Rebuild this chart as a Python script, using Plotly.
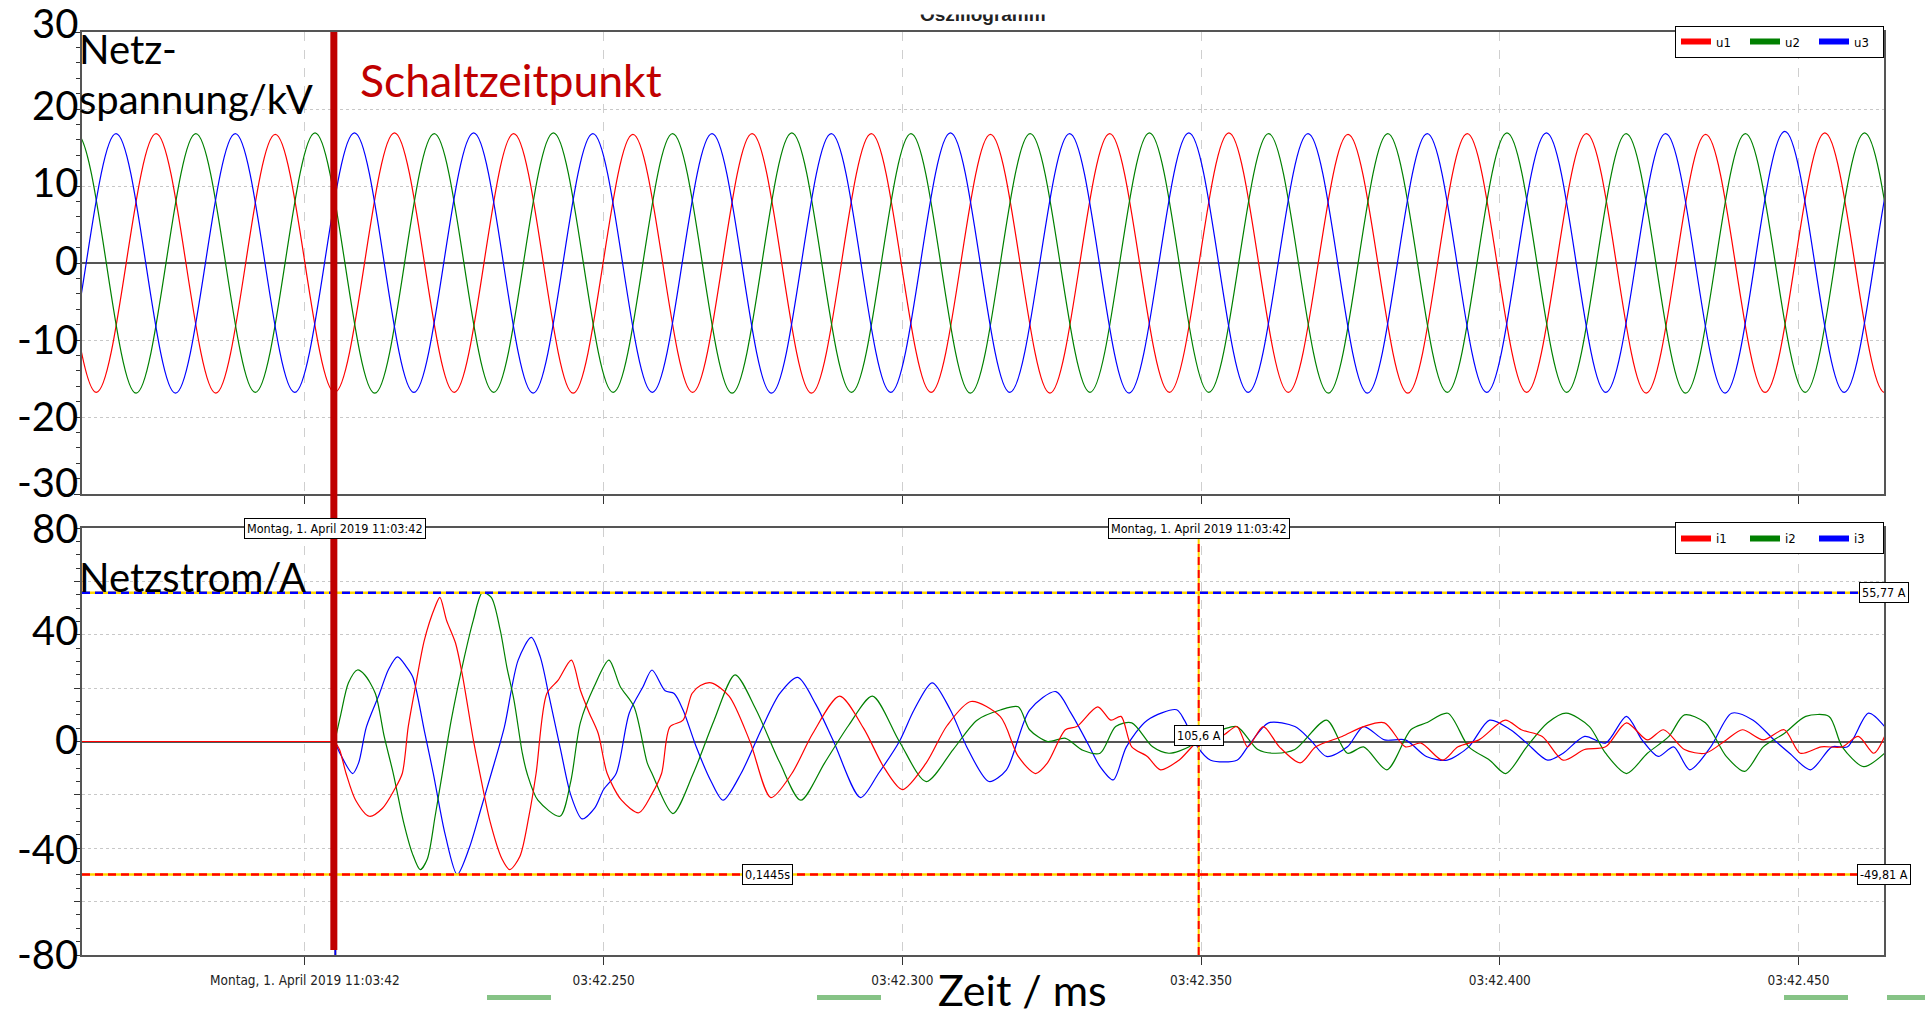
import plotly.graph_objects as go

# ---------------------------------------------------------------------------
# Time axis: milliseconds after 11:03:42.000
# ---------------------------------------------------------------------------
t_start, t_end = 162.7, 464.3
tick_ms = [200, 250, 300, 350, 400, 450]
tick_labels = ["Montag, 1. April 2019 11:03:42", "03:42.250", "03:42.300",
               "03:42.350", "03:42.400", "03:42.450"]

switch_ms = 204.85          # Schaltzeitpunkt
cursor1_ms = 205.1          # cursor 1 (yellow/blue)
cursor2_ms = 349.6          # cursor 2 (yellow/red)
i_max = 55.77               # A, horizontal cursor 1
i_min = -49.81              # A, horizontal cursor 2
cursor_stamp = "Montag, 1. April 2019 11:03:42"
delta_label = "0,1445s"
cursor2_value_label = "105,6 A"

u_ticks = [30, 20, 10, 0, -10, -20, -30]
i_ticks = [80, 40, 0, -40, -80]

# ---------------------------------------------------------------------------
# Netzspannung (kV): peak / valley instants and values of each phase
# ---------------------------------------------------------------------------
u1_t = [145.2, 155.15, 165.1, 175.1, 185.1, 195.05, 205.0, 215.0, 225.0, 234.95,
        244.9, 254.9, 264.9, 274.85, 284.8, 294.8, 304.8, 314.75, 324.7, 334.7,
        344.7, 354.65, 364.6, 374.6, 384.6, 394.55, 404.5, 414.5, 424.5, 434.45,
        444.4, 454.4, 464.4, 474.35, 484.3]
u1_v = [-16.8, 16.7, -16.8, 16.8, -16.9, 16.7, -16.8, 16.9, -16.8, 16.8,
        -16.9, 16.7, -16.8, 16.8, -16.9, 16.8, -16.8, 16.7, -16.9, 16.8,
        -16.8, 16.9, -16.8, 16.7, -16.9, 16.8, -16.8, 16.8, -16.9, 16.7,
        -16.8, 16.9, -16.8, 16.8, -16.8]

u2_t = [141.85, 151.8, 161.8, 171.75, 181.75, 191.7, 201.7, 211.7, 221.65, 231.6,
        241.6, 251.6, 261.55, 271.5, 281.5, 291.5, 301.45, 311.4, 321.4, 331.4,
        341.35, 351.3, 361.3, 371.3, 381.25, 391.2, 401.2, 411.2, 421.15, 431.1,
        441.1, 451.1, 461.05, 471.0, 481.0]
u2_v = [16.8, -16.8, 16.8, -16.9, 16.8, -16.8, 16.9, -16.9, 16.8, -16.8,
        16.9, -16.8, 16.8, -16.9, 16.9, -16.8, 16.8, -16.9, 16.8, -16.8,
        16.9, -16.8, 16.8, -16.9, 16.8, -16.8, 16.9, -16.8, 16.8, -16.9,
        16.8, -16.8, 16.9, -16.8, 16.8]

u3_t = [148.4, 158.4, 168.4, 178.35, 188.35, 198.3, 208.3, 218.25, 228.25, 238.2,
        248.2, 258.15, 268.15, 278.1, 288.1, 298.05, 308.05, 318.0, 328.0, 337.95,
        347.95, 357.9, 367.9, 377.85, 387.85, 397.8, 407.8, 417.75, 427.75, 437.7,
        447.7, 457.65, 467.65, 477.6]
u3_v = [16.8, -16.8, 16.8, -16.9, 16.8, -16.8, 16.9, -16.8, 16.9, -16.9,
        16.8, -16.8, 16.8, -16.9, 16.8, -16.8, 16.9, -16.8, 16.8, -16.9,
        16.9, -16.8, 16.8, -16.9, 16.8, -16.8, 16.9, -16.8, 16.8, -16.9,
        17.1, -16.8, 16.8, -16.8]

# ---------------------------------------------------------------------------
# Netzstrom (A): flat before switching, then per phase
# ---------------------------------------------------------------------------
pre_t = [162.7, 205.0]
pre_v = [0, 0]

i1_t = [205.0, 205.8, 206.9, 208.5, 210.8, 213.0, 215.0, 216.3, 217.3,
        218.5, 220.0, 221.8, 222.6, 223.7, 225.2, 226.3, 228.2, 229.3, 231.0,
        233.0, 234.3, 236.0, 237.5, 238.7, 240.5, 242.4, 244.6, 246.1, 247.6,
        249.1, 250.6, 253.0, 255.9, 258.0, 259.7, 261.1, 263.3, 264.8, 266.2,
        268.0, 271.0, 274.5, 278.0, 281.5, 285.0, 289.5, 293.5, 297.0, 300.0,
        304.0, 307.5, 311.5, 316.4, 319.4, 322.3, 324.3, 327.3, 329.2, 332.7,
        334.9, 336.6, 338.4, 341.0, 343.2, 346.3, 349.8, 353.4, 356.0, 357.8,
        360.4, 363.1, 366.6, 369.2, 373.6, 377.2, 380.7, 384.2, 386.8, 390.4,
        393.0, 396.5, 400.9, 403.6, 407.1, 410.6, 414.2, 417.7, 421.2, 424.7,
        427.4, 430.9, 434.4, 437.9, 440.6, 444.1, 447.6, 450.3, 453.8, 457.3,
        460.0, 462.6, 464.4]
i1_v = [0, -3, -12, -22, -28, -25, -18, -12, 5.5,
        20.5, 38, 50.5, 54, 45.5, 37, 25.7, 0.6, -12, -30,
        -44, -48, -43, -28, -12, 18, 23, 30.5, 19.3, 10.7,
        3, -12, -22, -26.7, -20, -12, 5.5, 8, 18, 21,
        22, 17, 0, -21, -12, 3, 17, 5, -10, -18,
        -8, 6, 15, 9.3, -5.6, -12, -8, 4.4, 5.6, 13,
        8, 9.4, -2, -5.6, -10.6, -7, 0.6, 1.9, 5.6, -2,
        5.6, -2, -8, -2, 1.9, 5.6, 7, -2, -0.6, -7,
        -2, 0.6, 8, 4.4, 1.9, -7, -3, -2, 7, 0.6,
        4.4, -3, -4.4, 0.6, 4.4, 0.6, 4.4, -4.4, -2, -2,
        1.9, -4.4, 1.9]

i2_t = [205.0, 206.0, 207.3, 208.8, 210.0, 211.8, 213.3, 214.8, 216.5,
        218.0, 219.3, 220.5, 221.8, 223.0, 224.5, 226.7, 228.2, 229.7, 231.2,
        232.7, 233.8, 235.0, 236.4, 237.2, 239.0, 242.7, 244.5, 246.1, 248.4,
        250.9, 252.8, 255.1, 257.3, 258.1, 261.6, 265.0, 268.5, 272.0, 275.5,
        279.5, 283.0, 287.0, 291.0, 295.0, 299.5, 304.0, 308.5, 312.5, 316.4,
        319.4, 321.3, 324.3, 327.3, 330.2, 333.1, 335.7, 338.4, 341.9, 344.6,
        348.0, 350.7, 353.4, 356.0, 359.5, 362.2, 365.7, 371.0, 374.5, 377.2,
        381.1, 385.1, 387.7, 391.3, 394.8, 398.3, 401.0, 404.5, 408.0, 411.1,
        415.0, 417.7, 421.2, 424.7, 428.3, 430.9, 434.4, 437.9, 441.0, 444.1,
        447.6, 451.2, 455.1, 457.3, 460.9, 464.4]
i2_v = [0, 10, 22, 26.8, 25, 18, 1.7, -12, -30,
        -42, -48, -44, -28, -12, 8, 31.7, 45.5, 55.77, 54,
        41.7, 28, 15.5, -4.4, -12, -22, -28, -15, 7, 20.5,
        30.5, 20.5, 13, -8, -12, -27, -12, 8, 25, 12,
        -8, -22, -8, 6, 17, 0, -15, -3, 8, 11.8,
        13, 4.4, 0, 1.2, -3.3, -4.4, 5.6, 7, -2, -4.4,
        -2, 3, 4.4, 5.6, -3, -4.4, -3, 8, -4.4, -2,
        -10.6, 4.4, 7, 10.6, -2, -7, -12, -2, 7, 10.6,
        5.6, -4.4, -12, -4.4, 1.9, 10, 7, -5.6, -11.2, -2,
        3, 9.4, 9.4, -2, -9.4, -4.4]

i3_t = [205.0, 206.0, 208.0, 209.0, 210.3, 212.5, 214.0, 215.5, 217.0,
        218.1, 220.0, 221.5, 223.5, 225.5, 227.5, 229.5, 231.2, 233.4, 235.7,
        237.9, 239.4, 240.9, 242.8, 244.5, 246.4, 248.5, 250.0, 252.1, 254.3,
        256.6, 258.1, 260.3, 261.8, 263.3, 265.5, 268.0, 270.0, 273.0, 276.5,
        279.5, 282.5, 285.5, 288.5, 293.0, 296.0, 299.5, 302.0, 305.0, 308.0,
        311.0, 314.5, 317.4, 321.3, 325.7, 328.2, 331.1, 333.1, 335.3, 337.5,
        341.0, 345.9, 347.2, 349.4, 351.6, 356.0, 357.8, 361.3, 365.7, 368.3,
        371.0, 374.5, 377.2, 380.7, 384.2, 387.7, 391.2, 394.8, 398.3, 401.8,
        404.5, 408.0, 410.6, 414.2, 417.7, 421.2, 423.8, 426.5, 429.1, 431.8,
        435.3, 438.8, 442.4, 445.9, 448.5, 452.0, 455.6, 458.2, 461.7, 464.4]
i3_v = [0, -5, -12, -8, 5.5, 18, 27, 31.7, 28,
        24, 4, -12, -35, -49.81, -40, -25, -12, 5.5, 30.5,
        39, 31.7, 16.7, -3, -20, -29, -25, -18, -12, 10.7,
        20.5, 26.8, 19, 18, 11.8, -2, -15, -22, -12, 5,
        18, 24, 14, 0, -21, -12, 0, 12, 22, 12,
        -3, -15, -10.7, 11.8, 18.7, 10.7, -1, -9.4, -14.4, -2,
        8, 11.9, 8, -2, -7, -7, -2, 7, 5.6, 0.6,
        -5.6, -2, 5.6, 0.6, 0.6, -5.6, -7, -2, 8, 4.4,
        -0.6, -7, -4.4, 1.9, -0.6, 9.4, 0.6, -5.6, -2, -10.6,
        -2, 10.6, 8, 0.6, -4.4, -10.6, -2, -2, 10.6, 5.6]

# ---------------------------------------------------------------------------
# Styling
# ---------------------------------------------------------------------------
RED, GREEN, BLUE = "#ff0000", "#008000", "#0000ff"
YELLOW = "#ffd700"
DARKRED = "#c00000"
FRAME = "#555555"
BIG = "Lato, 'Open Sans', sans-serif"
NARROW = "'Liberation Sans Narrow', 'DejaVu Sans Condensed', 'Arial Narrow', sans-serif"

W, H = 1925, 1015
ML, MR, MT, MB = 82, 41, 32, 60
PW, PH = W - ML - MR, H - MT - MB


def px_x(px):
    return (px - ML) / PW


def px_y(py):
    return (H - MB - py) / PH


top_domain = [px_y(494), 1.0]
bot_domain = [0.0, px_y(528)]

fig = go.Figure()

# voltages
for tt, vv, col in [(u1_t, u1_v, RED), (u2_t, u2_v, GREEN), (u3_t, u3_v, BLUE)]:
    fig.add_trace(go.Scatter(x=tt, y=vv, mode="lines", xaxis="x", yaxis="y",
                             line=dict(color=col, width=1.2, shape="spline", smoothing=1),
                             showlegend=False, hoverinfo="skip"))

# currents: flat segment before switching, then the transient
for col in [BLUE, GREEN, RED]:
    fig.add_trace(go.Scatter(x=pre_t, y=pre_v, mode="lines", xaxis="x2", yaxis="y2",
                             line=dict(color=col, width=1.2),
                             showlegend=False, hoverinfo="skip"))
for tt, vv, col in [(i3_t, i3_v, BLUE), (i2_t, i2_v, GREEN), (i1_t, i1_v, RED)]:
    fig.add_trace(go.Scatter(x=tt, y=vv, mode="lines", xaxis="x2", yaxis="y2",
                             line=dict(color=col, width=1.2, shape="spline", smoothing=0.8),
                             showlegend=False, hoverinfo="skip"))

# legend entries
for name, col in [("u1", RED), ("u2", GREEN), ("u3", BLUE)]:
    fig.add_trace(go.Scatter(x=[None], y=[None], mode="lines", name=name,
                             xaxis="x", yaxis="y", legend="legend",
                             line=dict(color=col, width=6)))
for name, col in [("i1", RED), ("i2", GREEN), ("i3", BLUE)]:
    fig.add_trace(go.Scatter(x=[None], y=[None], mode="lines", name=name,
                             xaxis="x2", yaxis="y2", legend="legend2",
                             line=dict(color=col, width=6)))

axis_common = dict(showline=True, linecolor=FRAME, linewidth=2, mirror=True)
x_common = dict(range=[t_start, t_end], tickvals=tick_ms, ticks="outside",
                ticklen=8, tickcolor="#333", showgrid=True, gridcolor="#cfcfcf",
                griddash="dash", gridwidth=1, zeroline=False, **axis_common)
y_common = dict(ticks="outside", ticklen=6, tickcolor="#333", showticklabels=False,
                showgrid=True, gridcolor="#c8c8c8", griddash="dot",
                zeroline=True, zerolinecolor=FRAME, zerolinewidth=1.5, **axis_common)

legend_common = dict(x=1, xanchor="right", yanchor="top", orientation="h",
                     bgcolor="white", bordercolor="#000", borderwidth=1,
                     font=dict(family=NARROW, size=13, color="#000"),
                     itemwidth=30, entrywidth=24, tracegroupgap=0)

fig.update_layout(
    width=W, height=H,
    margin=dict(l=ML, r=MR, t=MT, b=MB),
    plot_bgcolor="white", paper_bgcolor="white",
    xaxis=dict(anchor="y", domain=[0, 1], showticklabels=False, **x_common),
    xaxis2=dict(anchor="y2", domain=[0, 1], matches="x", ticktext=tick_labels,
                ticklabelstandoff=4,
                tickfont=dict(family=NARROW, size=13.5, color="#222"), **x_common),
    yaxis=dict(domain=top_domain, anchor="x", range=[-30, 30],
               tickvals=[-30, -20, -10, 0, 10, 20, 30],
               minor=dict(dtick=2, tick0=0, ticks="outside", ticklen=4,
                          tickcolor="#333", showgrid=False),
               **y_common),
    yaxis2=dict(domain=bot_domain, anchor="x2", range=[-80, 80],
                tickvals=[-80, -60, -40, -20, 0, 20, 40, 60, 80],
                minor=dict(dtick=5, tick0=0, ticks="outside", ticklen=4,
                           tickcolor="#333", showgrid=False),
                **y_common),
    legend=dict(y=1.007, **legend_common),
    legend2=dict(y=bot_domain[1] + 0.006, **legend_common),
)

shapes = []
# horizontal cursors in the current panel
for level, dash_col in [(i_max, BLUE), (i_min, RED)]:
    shapes.append(dict(type="line", xref="x2 domain", x0=0, x1=1, yref="y2",
                       y0=level, y1=level, line=dict(color=YELLOW, width=2.5)))
    shapes.append(dict(type="line", xref="x2 domain", x0=0, x1=1, yref="y2",
                       y0=level, y1=level,
                       line=dict(color=dash_col, width=2.5, dash="8px,5px")))
# vertical cursors in the current panel
for pos, dash_col in [(cursor1_ms, BLUE), (cursor2_ms, RED)]:
    shapes.append(dict(type="line", xref="x2", x0=pos, x1=pos, yref="y2 domain",
                       y0=0, y1=1, line=dict(color=YELLOW, width=2)))
    shapes.append(dict(type="line", xref="x2", x0=pos, x1=pos, yref="y2 domain",
                       y0=0, y1=1, line=dict(color=dash_col, width=2, dash="8px,5px")))
# switching instant
shapes.append(dict(type="line", xref="x", x0=switch_ms, x1=switch_ms, yref="paper",
                   y0=px_y(950), y1=1.0, line=dict(color=DARKRED, width=7)))
# slide decoration bars along the bottom edge
for a, b in [(487, 551), (817, 881), (1784, 1848), (1887, 1930)]:
    shapes.append(dict(type="rect", xref="paper", yref="paper",
                       x0=px_x(a), x1=px_x(b), y0=px_y(1000), y1=px_y(995),
                       fillcolor="#86c386", line=dict(width=0)))
fig.update_layout(shapes=shapes)

big_font = dict(family=BIG, size=40, color="#000")
box = dict(bgcolor="white", bordercolor="#000", borderwidth=1, borderpad=2,
           font=dict(family=NARROW, size=12.5, color="#000"), showarrow=False)
annotations = []

# large y tick labels (nudged like in the recorder export)
u_shift = {30: 9, 20: 4, 10: 4, 0: 3, -10: 1, -20: 1, -30: 12}
for v in u_ticks:
    annotations.append(dict(text=str(v), xref="paper", yref="y", x=0, y=v,
                            xanchor="right", yanchor="middle", xshift=-3,
                            yshift=u_shift[v], showarrow=False, font=big_font,
                            borderpad=0))
i_shift = {80: 0, 40: 5, 0: 3, -40: -1, -80: 1}
for v in i_ticks:
    annotations.append(dict(text=str(v), xref="paper", yref="y2", x=0, y=v,
                            xanchor="right", yanchor="middle", xshift=-3,
                            yshift=i_shift[v], showarrow=False, font=big_font,
                            borderpad=0))

annotations += [
    dict(text="Netz-", xref="paper", yref="paper", x=0, y=px_y(49), xshift=-5,
         xanchor="left", yanchor="middle", showarrow=False, font=big_font),
    dict(text="spannung/kV", xref="paper", yref="paper", x=0, y=px_y(99), xshift=-5,
         xanchor="left", yanchor="middle", showarrow=False, font=big_font),
    dict(text="Netzstrom/A", xref="paper", yref="paper", x=0, y=px_y(577), xshift=-5,
         xanchor="left", yanchor="middle", showarrow=False, font=big_font),
    dict(text="Schaltzeitpunkt", xref="paper", yref="paper", x=px_x(358),
         y=px_y(79), xanchor="left", yanchor="middle", showarrow=False,
         font=dict(family=BIG, size=44.5, color=DARKRED)),
    dict(text="Zeit / ms", xref="paper", yref="paper", x=px_x(1022),
         y=px_y(989), xanchor="center", yanchor="middle", showarrow=False,
         font=dict(family=BIG, size=43, color="#000")),
    dict(text="<b>Oszillogramm</b>", xref="paper", yref="paper", x=px_x(983),
         y=px_y(14), xanchor="center", yanchor="middle", showarrow=False,
         font=dict(family="'Liberation Sans', sans-serif", size=19, color="#222")),
    # white band of the slide header overlapping the export title
    dict(text=" ", xref="paper", yref="paper", x=px_x(983), y=px_y(0),
         xanchor="center", yanchor="top", width=180, height=11, bgcolor="white",
         showarrow=False),
    dict(text=cursor_stamp, xref="x2", yref="paper", x=cursor1_ms,
         y=bot_domain[1], xanchor="center", yanchor="middle", **box),
    dict(text=cursor_stamp, xref="x2", yref="paper", x=cursor2_ms,
         y=bot_domain[1], xanchor="center", yanchor="middle", **box),
    dict(text=f"{i_max:.2f} A".replace(".", ","), xref="paper", yref="y2", x=1,
         y=i_max, xanchor="center", yanchor="middle", **box),
    dict(text=f"{i_min:.2f} A".replace(".", ","), xref="paper", yref="y2", x=1,
         y=i_min, xanchor="center", yanchor="middle", **box),
    dict(text=delta_label, xref="paper", yref="y2", x=px_x(767), y=i_min,
         xanchor="center", yanchor="middle", **box),
    dict(text=cursor2_value_label, xref="x2", yref="y2", x=cursor2_ms, y=2.4,
         xanchor="center", yanchor="middle", **box),
]
fig.update_layout(annotations=annotations)

fig.write_html("out.html")
